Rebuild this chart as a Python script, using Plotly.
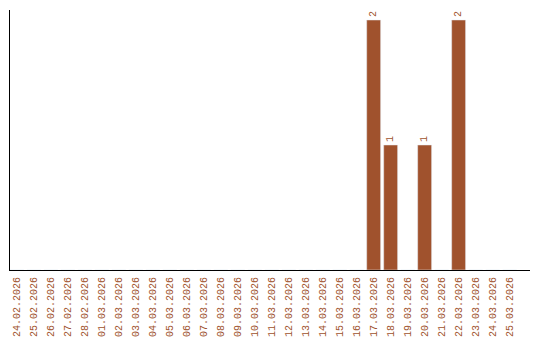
import plotly.graph_objects as go
import pandas as pd

dates = pd.date_range("2026-02-24", "2026-03-25").strftime("%d.%m.%Y").tolist()
counts_by_date = {"17.03.2026": 2, "18.03.2026": 1, "20.03.2026": 1, "22.03.2026": 2}
values = [counts_by_date.get(d, 0) for d in dates]
labels = [str(v) if v else "" for v in values]

color = "#A0522D"
fig = go.Figure(go.Bar(
    x=list(range(len(dates))), y=values, marker_color=color, text=labels,
    textposition="outside", textangle=-90, cliponaxis=False, width=0.82,
    textfont=dict(color=color, size=10, family="Liberation Mono"),
))
fig.update_layout(
    width=540, height=340, margin=dict(l=10, r=10, t=10, b=70),
    plot_bgcolor="white", paper_bgcolor="white",
    showlegend=False,
)
fig.update_xaxes(range=[-0.4, 30.2], tickmode="array", tickvals=list(range(len(dates))),
                 ticktext=dates, tickangle=-90, showline=True, linecolor="black",
                 linewidth=1, showgrid=False, ticks="", automargin=False,
                 ticklabelstandoff=2, zeroline=False,
                 tickfont=dict(color=color, size=10, family="Liberation Mono"))
fig.update_yaxes(range=[0, 2.08], showline=True, linecolor="black", linewidth=1,
                 showgrid=False, showticklabels=False, ticks="", zeroline=False,
                 automargin=False)
fig.write_html("out.html")
